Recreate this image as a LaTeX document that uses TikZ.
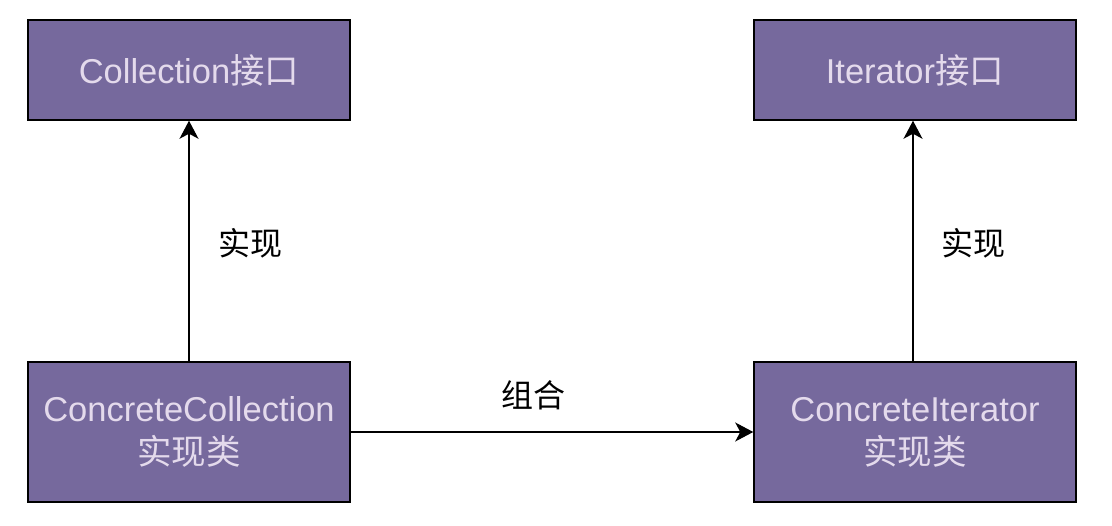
\documentclass[tikz,border=0pt]{standalone}
\usepackage{fontspec}
\setmainfont{Liberation Sans}
\newfontfamily\cjk{Noto Sans CJK SC}
\usetikzlibrary{arrows.meta}
\definecolor{boxfill}{HTML}{76699D}
\definecolor{boxtext}{HTML}{E4DAEC}
\begin{document}
\begin{tikzpicture}[x=1pt,y=-1pt,
  umlbox/.style={draw=black,line width=1.5pt,fill=boxfill,text=boxtext,
    minimum width=322pt,minimum height=100pt,inner sep=0pt,align=center,
    font=\fontsize{34.5}{43}\selectfont},
  tallbox/.style={umlbox,minimum height=140pt},
  conn/.style={line width=1.3pt,-{Stealth[length=18pt,width=19pt,inset=5pt]}},
  lbl/.style={font=\fontsize{32}{36}\selectfont\cjk,text=black}]
\useasboundingbox (0,0) rectangle (1112,526);
\node[umlbox] (coll) at (189,70) {Collection{\cjk 接口}};
\node[umlbox] (iter) at (915,70) {Iterator{\cjk 接口}};
\node[tallbox] (ccoll) at (189,432) {ConcreteCollection\\{\cjk 实现类}};
\node[tallbox] (citer) at (915,432) {ConcreteIterator\\{\cjk 实现类}};
\draw[conn] (ccoll.north -| 189,0) -- (coll.south -| 189,0);
\draw[conn] (citer.north -| 913,0) -- (iter.south -| 913,0);
\draw[conn] (ccoll.east) -- (citer.west);
\node[lbl] (l1) at (250,243) {实现};
\node[lbl] (l2) at (973,243) {实现};
\node[lbl] (l3) at (533,395) {组合};
\end{tikzpicture}
\end{document}
